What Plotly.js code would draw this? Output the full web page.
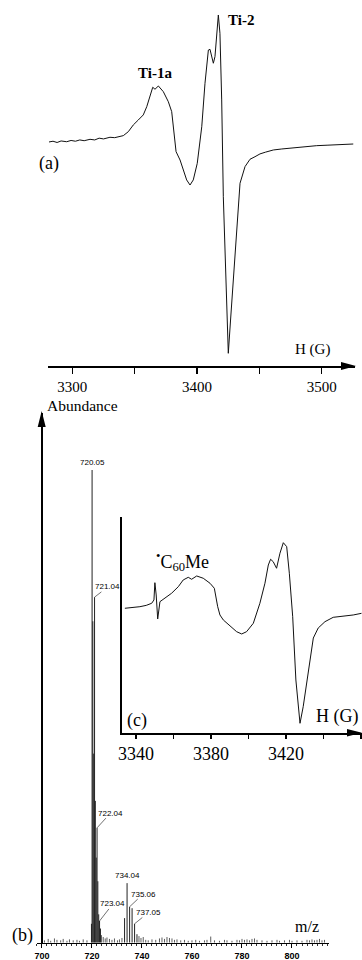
<!DOCTYPE html>
<html>
<head>
<meta charset="utf-8">
<script src="https://cdn.plot.ly/plotly-3.0.1.min.js"></script>
<style>html,body{margin:0;padding:0;background:#fff;overflow:hidden;}#chart{width:362px;height:960px;}</style>
</head>
<body>
<div id="chart"></div>
<script>
// ---------- Panel (a): EPR spectrum ----------
const eprA_field = [3281.3,3284.5,3287.8,3291.0,3295.5,3299.0,3302.5,3306.0,3309.5,3314.2,3318.0,3321.5,3325.0,3330.2,3334.0,3337.5,3340.9,3344.9,3348.9,3352.9,3356.9,3359.7,3362.3,3364.5,3366.3,3369.0,3373.0,3377.0,3379.7,3381.0,3383.2,3386.4,3389.0,3391.7,3394.4,3397.0,3400.2,3403.8,3406.4,3409.1,3410.4,3413.1,3414.4,3416.3,3417.1,3418.4,3419.8,3421.1,3422.5,3425.1,3426.9,3429.1,3432.3,3434.5,3438.5,3442.5,3446.5,3450.5,3455.0,3461.2,3468.0,3477.2,3486.0,3496.0,3505.0,3515.0,3525.3];
const eprA_signal = [0.000,0.006,-0.004,0.008,0.002,0.012,0.006,0.016,0.010,0.021,0.016,0.030,0.024,0.037,0.034,0.045,0.050,0.081,0.134,0.173,0.213,0.278,0.370,0.431,0.415,0.441,0.396,0.317,0.239,0.120,-0.076,-0.142,-0.220,-0.299,-0.339,-0.299,-0.168,0.120,0.462,0.724,0.730,0.620,0.672,0.961,1.000,0.856,0.331,-0.431,-0.929,-1.664,-1.402,-1.087,-0.561,-0.325,-0.194,-0.136,-0.116,-0.094,-0.080,-0.063,-0.055,-0.045,-0.038,-0.029,-0.025,-0.020,-0.016];
const eprA_ticks = [3300,3400,3500];
const eprA_minorStep = 50;

// ---------- Panel (b): mass spectrum ----------
const ms_mz = [719.8,720.05,720.35,720.7,721.04,721.35,721.7,722.04,722.35,722.7,723.04,723.4,733.04,734.04,735.06,736.05,737.05,738.0];
const ms_abundance = [4.0,100.0,68.0,40.0,73.1,30.0,18.0,24.3,13.0,6.0,4.6,3.0,5.2,12.6,7.6,7.3,4.0,1.8];
const noise_mz = [701,702.5,703.5,705,706,707.5,708.5,710,711,712.5,714,715,716.5,718,723.8,724.5,725.3,726,727,728,729,730.2,731,732,738.8,739.6,740.5,741.5,742.5,744,745.5,747,748,749,750,751,752,753,754,755.5,757,758.5,760,761.5,763,765,766,767.5,769,771,773,774,776,778,779,780,781,782,783,784,785,786,788,790,792,794,795,797,799,800,802,804,806,807,808,809,810,811,812,813];
const noise_ab = [0.5,0.8,0.4,0.9,0.6,0.5,0.8,0.4,0.7,0.5,0.6,0.4,0.7,0.5,1.6,1.2,0.9,1.1,0.8,0.6,0.9,0.5,0.7,1.0,1.4,1.0,1.2,0.6,0.5,0.7,0.6,0.9,1.1,0.8,1.2,1.0,0.9,0.6,0.7,0.5,0.6,0.4,0.5,0.6,0.4,0.5,0.6,1.3,0.5,0.4,0.6,0.5,0.4,0.6,0.5,0.8,0.6,0.7,0.5,0.8,0.9,0.6,0.5,0.4,0.5,0.6,0.4,0.5,0.6,0.4,0.5,0.4,0.6,0.5,0.7,0.5,0.6,0.8,0.5,0.6];
const ms_ticks = [700,720,740,760,780,800];
const ms_labels = [
  {mz:720.05, text:'720.05', dx:0,    dy:0,   leader:false},
  {mz:721.04, text:'721.04', dx:13.3, dy:-10.3, leader:true},
  {mz:722.04, text:'722.04', dx:13.4, dy:-14.7, leader:true},
  {mz:723.04, text:'723.04', dx:13.2, dy:-17,  leader:true},
  {mz:734.04, text:'734.04', dx:0,    dy:0,   leader:false},
  {mz:735.06, text:'735.06', dx:13.4, dy:-12.7, leader:true},
  {mz:737.05, text:'737.05', dx:13.9, dy:-11.3, leader:true}
];

// ---------- Inset (c): EPR spectrum ----------
const eprC_field = [3334.1,3338.0,3342.1,3345.5,3348.4,3349.6,3350.1,3350.8,3351.6,3352.8,3355.5,3359.0,3362.6,3365.2,3367.9,3369.7,3372.4,3375.9,3379.5,3381.8,3383.6,3384.8,3386.6,3391.0,3393.7,3396.4,3399.0,3402.6,3406.1,3408.8,3410.6,3411.8,3413.2,3415.0,3416.8,3418.6,3420.4,3421.8,3423.6,3425.3,3427.5,3429.2,3431.9,3434.6,3437.2,3440.8,3445.2,3448.8,3452.0,3455.9,3460.4];
const eprC_signal = [-0.036,-0.025,-0.011,0.010,0.043,0.095,0.368,0.174,-0.205,0.068,0.122,0.201,0.305,0.411,0.453,0.422,0.474,0.438,0.359,0.280,-0.011,-0.142,-0.221,-0.327,-0.406,-0.442,-0.406,-0.273,0.043,0.359,0.648,0.738,0.700,0.596,0.833,1.000,0.937,0.517,-0.169,-1.169,-1.853,-1.591,-1.063,-0.506,-0.348,-0.248,-0.179,-0.169,-0.150,-0.142,-0.115];
const eprC_ticks = [3340,3380,3420];
const eprC_minorStep = 20;

// ---------- build ----------
const W = 362, H = 960;
const px = x => x / W, py = y => 1 - y / H;
const SERIF = 'Liberation Serif';
const SANS = 'Liberation Sans';

function sticks(xs, ys) {
  const X = [], Y = [];
  xs.forEach((x, i) => { X.push(x, x, null); Y.push(0, ys[i], null); });
  return {X, Y};
}
const msS = sticks(ms_mz, ms_abundance);
const noS = sticks(noise_mz, noise_ab);

const traces = [
  {x: eprA_field, y: eprA_signal, xaxis:'x', yaxis:'y', mode:'lines', line:{color:'#111', width:1}, hoverinfo:'skip'},
  {x: noS.X, y: noS.Y, xaxis:'x2', yaxis:'y2', mode:'lines', line:{color:'#333', width:0.8}, hoverinfo:'skip'},
  {x: msS.X, y: msS.Y, xaxis:'x2', yaxis:'y2', mode:'lines', line:{color:'#222', width:1}, hoverinfo:'skip'},
  {x: eprC_field, y: eprC_signal, xaxis:'x3', yaxis:'y3', mode:'lines', line:{color:'#111', width:1}, hoverinfo:'skip'}
];

function tri(tip, base1, base2) {
  return {type:'path', xref:'paper', yref:'paper', fillcolor:'#000', line:{width:0},
    path:`M ${px(tip[0])} ${py(tip[1])} L ${px(base1[0])} ${py(base1[1])} L ${px(base2[0])} ${py(base2[1])} Z`};
}
function lab(xp, yp, text, size, extra) {
  return Object.assign({xref:'paper', yref:'paper', x:px(xp), y:py(yp), text, showarrow:false,
    xanchor:'center', yanchor:'middle', font:{family:SERIF, size, color:'#000'}}, extra || {});
}

const annotations = [
  {xref:'x', yref:'y', x:3417.1, y:1.0, text:'<b>Ti-2</b>', showarrow:false, xanchor:'left', yanchor:'middle', xshift:8, yshift:-5, font:{family:SERIF, size:15, color:'#000'}},
  {xref:'x', yref:'y', x:3369.0, y:0.441, text:'<b>Ti-1a</b>', showarrow:false, xanchor:'center', yanchor:'bottom', xshift:-3, yshift:3, font:{family:SERIF, size:15, color:'#000'}},
  lab(48.5, 163, '(a)', 18),
  lab(312, 350, 'H (G)', 15),
  lab(82, 406, 'Abundance', 15.5),
  lab(306.5, 926.7, 'm/z', 16),
  lab(22.8, 935, '(b)', 18),
  lab(137, 720, '(c)', 18),
  lab(337.5, 716.7, 'H (G)', 18),
  lab(154, 561, '<sup>•</sup>C<sub>60</sub>Me', 18, {xanchor:'left'})
];
ms_labels.forEach(l => {
  const h = ms_abundance[ms_mz.indexOf(l.mz)];
  if (l.leader) {
    annotations.push({xref:'x2', yref:'y2', x:l.mz, y:h, ax:l.dx, ay:l.dy, axref:'pixel', ayref:'pixel',
      text:l.text, showarrow:true, arrowhead:0, arrowwidth:0.7, arrowcolor:'#333', standoff:0,
      xanchor:'center', yanchor:'middle', font:{family:SANS, size:8, color:'#000'}, borderpad:0});
  } else {
    annotations.push({xref:'x2', yref:'y2', x:l.mz, y:h, text:l.text, showarrow:false, xanchor:'center', yanchor:'bottom', yshift:1,
      font:{family:SANS, size:8, color:'#000'}});
  }
});

const shapes = [
  tri([356, 366], [341, 362], [341, 370]),
  tri([362, 732.7], [347, 729], [347, 736.5]),
  tri([41.7, 411], [37.7, 427], [45.7, 427])
];

const layout = {
  width: W, height: H,
  margin: {l:0, r:0, t:0, b:0, pad:0},
  paper_bgcolor:'#fff', plot_bgcolor:'rgba(0,0,0,0)',
  showlegend:false,
  xaxis: {domain:[px(48), px(355)], range:[3280.5, 3526.7], anchor:'y',
    showline:true, linewidth:2, linecolor:'#000', showgrid:false, zeroline:false,
    ticks:'outside', ticklen:6, tickwidth:1.5, tickcolor:'#000',
    tickvals:eprA_ticks, ticktext:eprA_ticks.map(String), tickfont:{family:SERIF, size:15, color:'#000'},
    minor:{dtick:eprA_minorStep, tick0:3300, ticks:'outside', ticklen:6, tickwidth:1.5, tickcolor:'#000', showgrid:false}},
  yaxis: {domain:[py(366), 1], range:[-1.764, 1.118], visible:false, anchor:'x'},
  xaxis2: {domain:[px(36.7), px(329)], range:[697.9, 814.8], anchor:'y2',
    showline:true, linewidth:1, linecolor:'#000', showgrid:false, zeroline:false,
    ticks:'outside', ticklen:4, tickwidth:1, tickcolor:'#000',
    tickvals:ms_ticks, ticktext:ms_ticks.map(String),
    minor:{dtick:2, tick0:700, ticks:'outside', ticklen:2.5, tickwidth:0.8, tickcolor:'#000', showgrid:false},
    tickfont:{family:SANS, size:9, color:'#000', weight:'bold'}},
  yaxis2: {domain:[py(942.7), py(413)], range:[0, 112.06], anchor:'free', position:px(41.7),
    showline:true, linewidth:2, linecolor:'#000', showgrid:false, zeroline:false, ticks:'', showticklabels:false},
  xaxis3: {domain:[px(121.7), px(361.7)], range:[3332.4, 3460.4], anchor:'y3',
    showline:true, linewidth:2, linecolor:'#000', showgrid:false, zeroline:false,
    ticks:'outside', ticklen:4, tickwidth:1.5, tickcolor:'#000',
    tickvals:eprC_ticks, ticktext:eprC_ticks.map(String), tickfont:{family:SERIF, size:18, color:'#000'},
    minor:{dtick:eprC_minorStep, tick0:3340, ticks:'outside', ticklen:4, tickwidth:1.5, tickcolor:'#000', showgrid:false}},
  yaxis3: {domain:[py(732.7), py(517.3)], range:[-2.0016, 1.401], anchor:'x3',
    showline:true, linewidth:2, linecolor:'#000', showgrid:false, zeroline:false, ticks:'', showticklabels:false},
  annotations, shapes
};

Plotly.newPlot('chart', traces, layout, {displayModeBar:false, staticPlot:true});
</script>
</body>
</html>
